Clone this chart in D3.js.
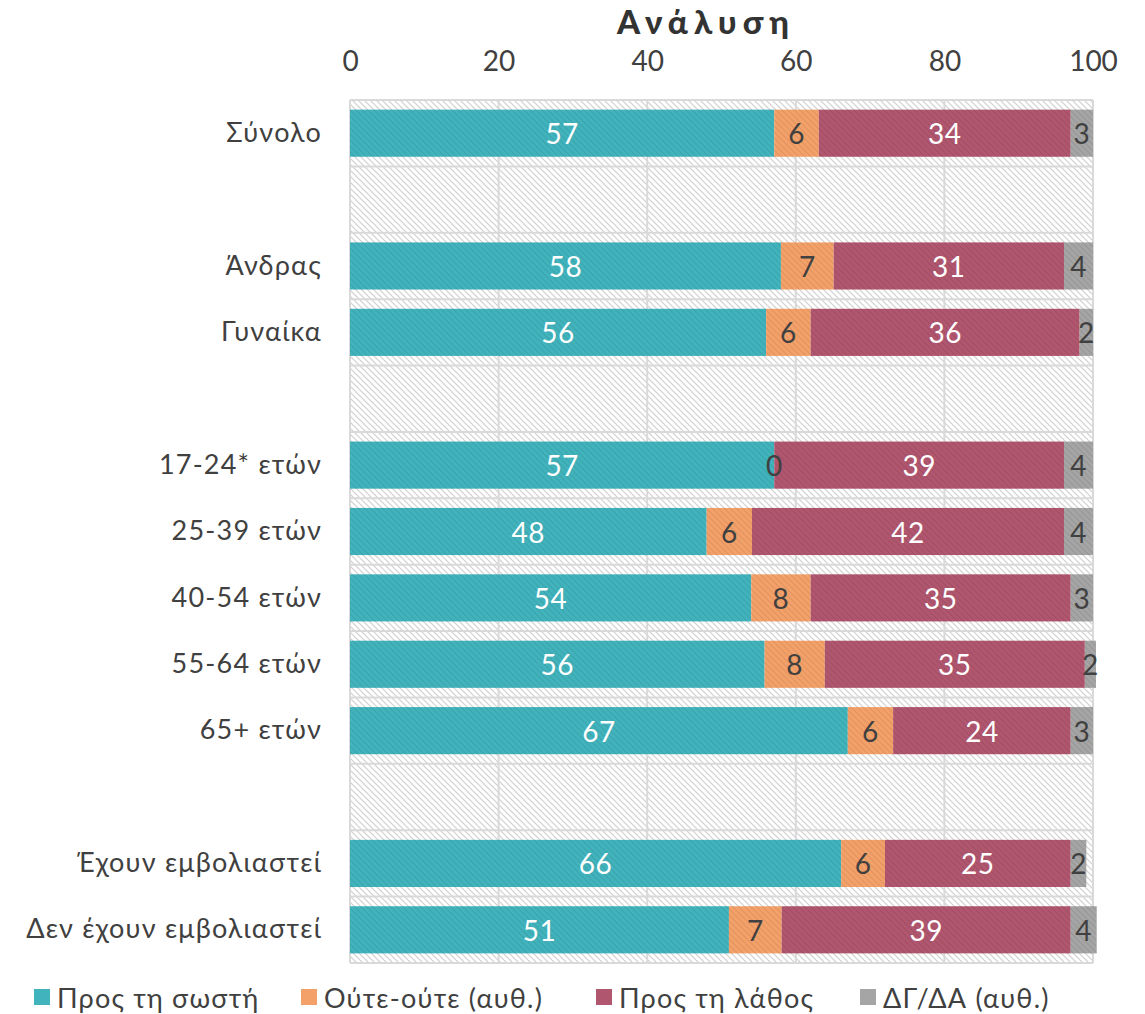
<!DOCTYPE html>
<html><head><meta charset="utf-8">
<script src="https://cdn.jsdelivr.net/npm/d3@7"></script>
<style>
body{margin:0;background:#fff;}
text{font-family:Lato,"Open Sans",sans-serif;}
</style></head>
<body><svg id="c" width="1145" height="1014"></svg>
<script>
const title = "Ανάλυση";
const categories = ["Σύνολο","","Άνδρας","Γυναίκα","","17-24* ετών","25-39 ετών","40-54 ετών","55-64 ετών","65+ ετών","","Έχουν εμβολιαστεί","Δεν έχουν εμβολιαστεί"];
const seriesNames = ["Προς τη σωστή","Ούτε-ούτε (αυθ.)","Προς τη λάθος","ΔΓ/ΔΑ (αυθ.)"];
const correct = [57.1,null,58.0,56.0,null,57.1,48.0,54.0,55.8,67.0,null,66.1,51.0];
const neither = [6.0,null,7.1,6.0,null,0,6.1,8.0,8.1,6.1,null,5.9,7.1];
const wrong   = [33.9,null,31.0,36.2,null,39.0,42.0,35.0,35.0,23.9,null,25.0,38.9];
const dkna    = [3.0,null,3.9,1.8,null,3.9,3.9,3.0,1.5,3.0,null,2.1,3.5];
const xTicks = [0,20,40,60,80,100];
const colors = ["#41b3bc","#f4a169","#b1566f","#a5a5a5"];
const labelColors = ["#ffffff","#404040","#ffffff","#404040"];

const svg = d3.select("#c");
const pL = 350, pR = 1093, pT = 100, pB = 963;
const x = d3.scaleLinear().domain([0,100]).range([pL,pR]);
const y = d3.scaleBand().domain(d3.range(categories.length)).range([pT,pB]).paddingInner(0.29).paddingOuter(0.145);

const defs = svg.append("defs");
function hatch(id, base, stroke, op){
  const p = defs.append("pattern").attr("id",id).attr("patternUnits","userSpaceOnUse").attr("width",6).attr("height",6);
  p.append("rect").attr("width",6).attr("height",6).attr("fill",base);
  p.append("path").attr("d","M0,0 L6,6 M-3,3 L3,9 M3,-3 L9,3").attr("stroke",stroke).attr("stroke-opacity",op).attr("stroke-width",1.2);
}
hatch("bg","#ffffff","#d0d0d0",1);
colors.forEach((c,i)=>hatch("p"+i,c,"#000000",0.08));

svg.append("rect").attr("x",pL).attr("y",pT).attr("width",pR-pL).attr("height",pB-pT).attr("fill","url(#bg)");
svg.append("g").selectAll("line").data(xTicks).join("line")
  .attr("x1",d=>x(d)).attr("x2",d=>x(d)).attr("y1",pT).attr("y2",pB)
  .attr("stroke","#d9d9d9").attr("stroke-width",2);
const bounds = d3.range(categories.length+1).map(i=>pT + i*y.step());
svg.append("g").selectAll("line").data(bounds).join("line")
  .attr("x1",pL).attr("x2",pR).attr("y1",d=>d).attr("y2",d=>d)
  .attr("stroke","#d9d9d9").attr("stroke-width",2);

const rows = categories.map((c,i)=>({i, v:[correct[i],neither[i],wrong[i],dkna[i]]}));
const stack = d3.stack().keys([0,1,2,3]).value((d,k)=>d.v[k]==null?0:d.v[k]);
const series = stack(rows);
series.forEach((s,k)=>{
  const valid = s.filter(d=>d.data.v[k]!=null);
  svg.append("g").selectAll("rect").data(valid).join("rect")
    .attr("x",d=>x(d[0])).attr("width",d=>x(d[1])-x(d[0]))
    .attr("y",d=>y(d.data.i)).attr("height",y.bandwidth())
    .attr("fill","url(#p"+k+")");
});
series.forEach((s,k)=>{
  const valid = s.filter(d=>d.data.v[k]!=null);
  svg.append("g").selectAll("text").data(valid).join("text")
    .attr("x",d=>(x(d[0])+x(d[1]))/2).attr("y",d=>y(d.data.i)+y.bandwidth()/2)
    .attr("text-anchor","middle").attr("dominant-baseline","central")
    .attr("font-size",28).attr("letter-spacing",0.5).attr("fill",labelColors[k])
    .text(d=>Math.round(d.data.v[k]));
});

const ax = svg.append("g").attr("transform","translate(0,71)")
  .call(d3.axisTop(x).tickValues(xTicks).tickSize(0).tickPadding(0));
ax.select(".domain").remove();
ax.selectAll("text").attr("font-size",28).attr("fill","#404040").attr("font-family","Lato,sans-serif");

const ay = svg.append("g").attr("transform","translate("+(pL-28)+",0)")
  .call(d3.axisLeft(y).tickFormat(i=>categories[i]).tickSize(0).tickPadding(0));
ay.select(".domain").remove();
ay.selectAll("text").attr("font-size",27).attr("letter-spacing",1.2).attr("fill","#404040").attr("font-family","Lato,sans-serif");

svg.append("text").attr("x",706).attr("y",34).attr("text-anchor","middle")
  .attr("font-size",33).attr("font-weight",900).attr("letter-spacing",6).attr("fill","#333").text(title);

const legX = [34,301,596,860];
const lg = svg.append("g");
seriesNames.forEach((n,k)=>{
  lg.append("rect").attr("x",legX[k]).attr("y",989).attr("width",16).attr("height",16).attr("fill",colors[k]);
  lg.append("text").attr("x",legX[k]+23).attr("y",997).attr("dominant-baseline","central")
    .attr("font-size",27).attr("letter-spacing",1.2).attr("fill","#404040").text(n);
});
</script></body></html>
